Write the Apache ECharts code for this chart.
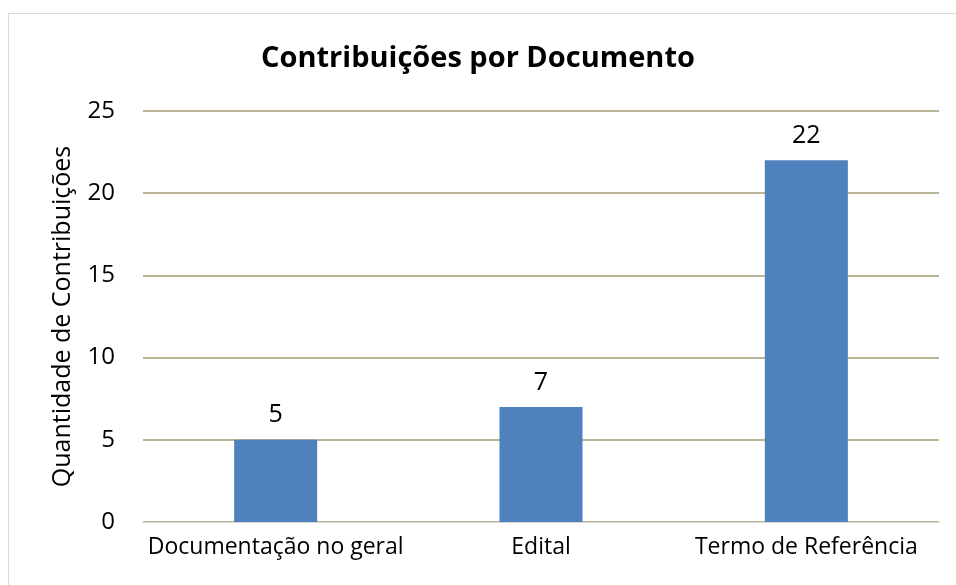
<!DOCTYPE html>
<html><head><meta charset="utf-8">
<script src="https://cdn.jsdelivr.net/npm/echarts@6/dist/echarts.min.js"></script>
<style>html,body{margin:0;padding:0;background:#fff}#c{width:956px;height:585px}</style>
</head><body><div id="c"></div>
<script>
const categories = ["Documentação no geral", "Edital", "Termo de Referência"];
const values = [5, 7, 22];
const yTicks = [0, 5, 10, 15, 20, 25];

const chart = echarts.init(document.getElementById('c'));
const FONT = '"Open Sans", "Liberation Sans", sans-serif';
chart.setOption({
  animation: false,
  backgroundColor: '#ffffff',
  graphic: [{
    type: 'rect', shape: {x: 8.5, y: 13.5, width: 960, height: 600},
    style: {fill: 'none', stroke: '#d9d9d9', lineWidth: 1}, silent: true
  }],
  title: {
    text: 'Contribuições por Documento', left: 'center', top: 39,
    textStyle: {fontFamily: FONT, fontWeight: 'bold', fontSize: 29, color: '#000'}
  },
  grid: {left: 143, right: 17, top: 111, bottom: 63},
  xAxis: {
    type: 'category', data: categories,
    axisLine: {show: true, lineStyle: {color: '#d9d9d9', width: 1}},
    axisTick: {show: false},
    axisLabel: {interval: 0, fontFamily: FONT, fontSize: 23, color: '#000', margin: 14}
  },
  yAxis: {
    type: 'value', min: yTicks[0], max: yTicks[yTicks.length - 1], interval: 5,
    name: 'Quantidade de Contribuições', nameLocation: 'middle', nameGap: 68,
    nameTextStyle: {fontFamily: FONT, fontSize: 25, color: '#000'},
    axisLine: {show: false}, axisTick: {show: false},
    axisLabel: {fontFamily: FONT, fontSize: 24, color: '#000', margin: 28},
    splitLine: {lineStyle: {color: '#a39d74', width: 1.5}}
  },
  series: [{
    type: 'bar', data: values, barWidth: '31.3%',
    itemStyle: {color: '#4f81bd'},
    label: {show: true, position: 'top', distance: 12, fontFamily: FONT, fontSize: 25, color: '#000'}
  }]
});
</script></body></html>
